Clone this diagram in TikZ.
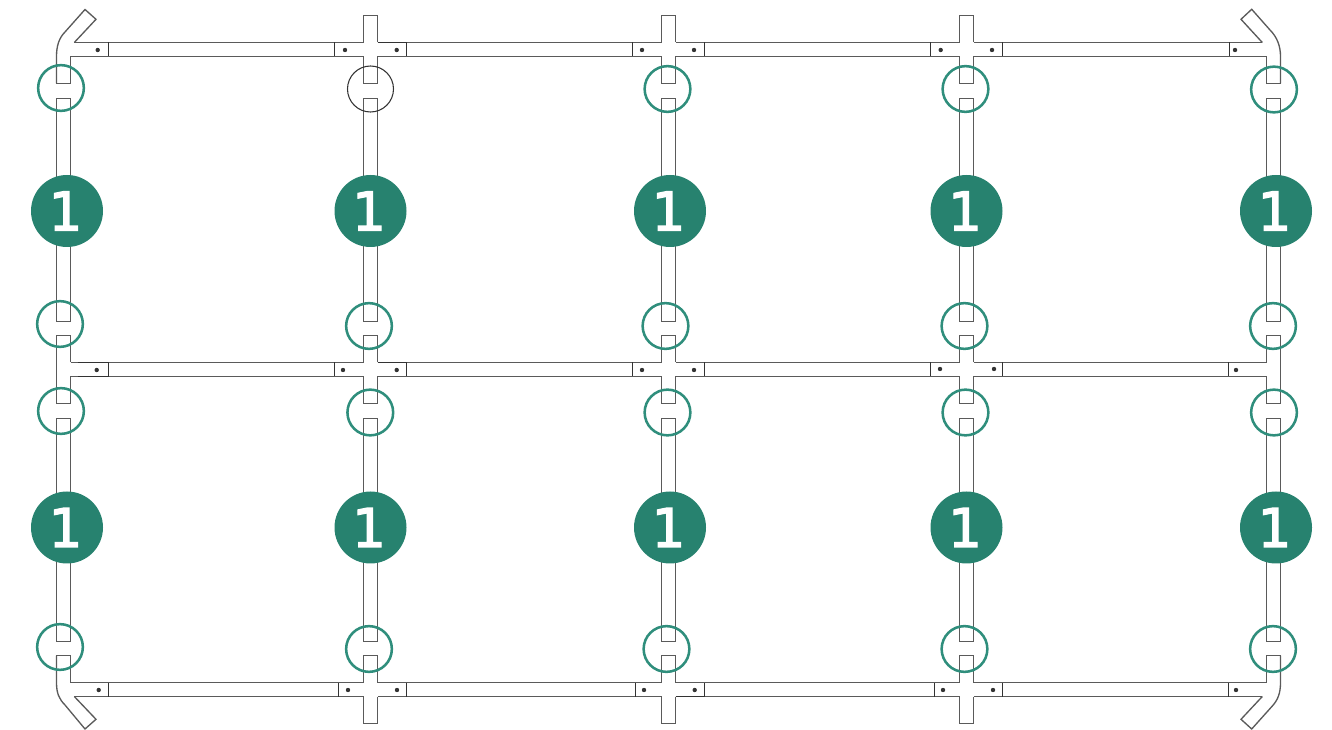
\documentclass[tikz,border=0pt]{standalone}
\usepackage{fontspec}
\setmainfont{DejaVu Sans}
\newfontfamily\badgefont[FakeBold=2.4]{DejaVu Sans}
\definecolor{beamline}{HTML}{5A5A5A}
\definecolor{jointline}{HTML}{333333}
\definecolor{ringgreen}{HTML}{2F8E7C}
\definecolor{badgegreen}{HTML}{27826F}
\tikzset{
  beam/.style={draw=beamline,line width=1pt,line join=miter},
  joint/.style={draw=jointline,line width=1.1pt},
  collar/.style={draw=jointline,line width=1.1pt},
  pin/.style={circle,fill=jointline,inner sep=0pt,minimum size=3.3pt},
  ring/.style={circle,draw=ringgreen,line width=1.9pt,inner sep=0pt,minimum size=34.3pt},
  darkring/.style={circle,draw=jointline,line width=0.8pt,inner sep=0pt,minimum size=34.5pt},
  badge/.style={circle,fill=badgegreen,inner sep=0pt,minimum size=54pt},
  digit/.style={text=white,inner sep=0pt,font=\badgefont\fontsize{40}{40}\selectfont},
}
\begin{document}
\begin{tikzpicture}[x=0.75pt,y=-0.75pt]
\useasboundingbox (0,0) rectangle (1332,730);
% vertical post pieces common to all columns
\foreach \xl in {56.5,363.5,661.5,959.5,1266.5}{
  \pgfmathsetmacro{\xr}{\xl+14}
  \draw[beam] (\xl,56.5) -- (\xl,83.5) -- (\xr,83.5) -- (\xr,56.5);
  \draw[beam] (\xl,321.5) -- (\xl,98.5) -- (\xr,98.5) -- (\xr,321.5) -- cycle;
  \draw[beam] (\xl,362.5) -- (\xl,335.5) -- (\xr,335.5) -- (\xr,362.5);
  \draw[beam] (\xl,376.5) -- (\xl,403.5) -- (\xr,403.5) -- (\xr,376.5);
  \draw[beam] (\xl,641.5) -- (\xl,418.5) -- (\xr,418.5) -- (\xr,641.5) -- cycle;
  \draw[beam] (\xl,682.5) -- (\xl,655.5) -- (\xr,655.5) -- (\xr,682.5);
}
% cross arms of inner columns
\foreach \xl in {363.5,661.5,959.5}{
  \pgfmathsetmacro{\xr}{\xl+14}
  \draw[beam] (\xl,42.5) -- (\xl,15.5) -- (\xr,15.5) -- (\xr,42.5);
  \draw[beam] (\xl,696.5) -- (\xl,723.5) -- (\xr,723.5) -- (\xr,696.5);
}
% outer edges at the middle rail
\draw[beam] (56.5,335.5) -- (56.5,403.5);
\draw[beam] (1280.5,335.5) -- (1280.5,403.5);
% horizontal rails
\foreach \ya in {42.5,56.5,362.5,376.5,682.5,696.5}{
  \draw[beam] (377.5,\ya) -- (661.5,\ya);
  \draw[beam] (675.5,\ya) -- (959.5,\ya);
}
\foreach \ya in {56.5,362.5,376.5,682.5}{
  \draw[beam] (70.5,\ya) -- (363.5,\ya);
  \draw[beam] (973.5,\ya) -- (1266.5,\ya);
}
\draw[beam] (74.3,42.5) -- (363.5,42.5);
\draw[beam] (973.5,42.5) -- (1262.3,42.5);
\draw[beam] (74.3,696.5) -- (363.5,696.5);
\draw[beam] (973.5,696.5) -- (1262.3,696.5);
% bent corners
\draw[beam] (56.5,83.5) -- (56.5,56.5) .. controls (56.5,46) and (59,38) .. (65,32) -- (85,9.5) -- (96,19.3) -- (74.3,42.5);
\draw[beam] (1280.5,83.5) -- (1280.5,56.5) .. controls (1280.5,46) and (1277,37) .. (1270,30) -- (1251.7,9.3) -- (1241,19.3) -- (1262.3,42.5);
\draw[beam] (56.5,655.5) -- (56.5,682.5) .. controls (56.5,693) and (59,699) .. (65,705) -- (85,729) -- (96,719.3) -- (74.3,696.5);
\draw[beam] (1280.5,655.5) -- (1280.5,682.5) .. controls (1280.5,693) and (1278,700) .. (1271.7,706.7) -- (1251.7,729) -- (1241,719.3) -- (1262.3,696.5);
% joints: x / y-centre
\foreach \x/\y in {108.5/49.5,334.5/49.5,406.5/49.5,632.5/49.5,704.5/49.5,930.5/49.5,1002.5/49.5,1229.5/49.5,
  108.5/369.5,334.5/369.5,406.5/369.5,632.5/369.5,704.5/369.5,930.5/369.5,1002.5/369.5,1228.5/369.5,
  108.5/689.5,338.5/689.5,406.5/689.5,635.5/689.5,704.5/689.5,934.5/689.5,1002.5/689.5,1228.5/689.5}{
  \draw[joint] (\x,\y-7) -- (\x,\y+7);
}
% darker rail stretches beside the joints
\draw[collar] (377.5,42.5) -- (406.5,42.5);
\draw[collar] (78,362.5) -- (108.5,362.5);
\draw[collar] (78,376.5) -- (108.5,376.5);
\draw[collar] (377.5,362.5) -- (406.5,362.5);
\draw[collar] (675.5,696.5) -- (704.5,696.5);
% fixing pins
\foreach \x/\y/\n in {97.7/50/a,345/50/b,396.7/50/c,642/50/d,694/50/e,940.7/50/x,992/50/f,1235/50/g,
  96.7/370/h,343/370/i,396.7/370/j,642/370/k,694/370/l,940/369/m,994/369/n,1236/370/o,
  98.7/690/p,348/690/q,397/690/r,644/690/s,694.7/690/t,943/690/u,993/690/v,1236/690/w}{
  \node[pin] (pin\n) at (\x,\y) {};
}
% rings
\node[ring] (r11) at (61,88) {};
\node[darkring] (r12) at (370.5,89) {};
\node[ring] (r13) at (667.5,89) {};
\node[ring] (r14) at (965.5,89) {};
\node[ring] (r15) at (1274,89.5) {};
\node[ring] (r21) at (60,324) {};
\node[ring] (r22) at (369,326) {};
\node[ring] (r23) at (665.5,326) {};
\node[ring] (r24) at (964.5,326) {};
\node[ring] (r25) at (1273,326) {};
\node[ring] (r31) at (61,411) {};
\node[ring] (r32) at (370.3,412.5) {};
\node[ring] (r33) at (667.5,412.5) {};
\node[ring] (r34) at (965.5,412.5) {};
\node[ring] (r35) at (1274,412.5) {};
\node[ring] (r41) at (60,647) {};
\node[ring] (r42) at (369,649) {};
\node[ring] (r43) at (666.5,649) {};
\node[ring] (r44) at (964.5,649) {};
\node[ring] (r45) at (1273,649) {};
% number badges
\foreach \x/\y/\n in {67/211/11,370.5/211/12,670/211/13,966.5/211/14,1276/211/15,
  67/527.5/21,370.5/527.5/22,670/527.5/23,966.5/527.5/24,1276/527.5/25}{
  \node[badge] (b\n) at (\x,\y) {};
  \node[digit] (d\n) at (\x-1.5,\y) {1};
}
\end{tikzpicture}
\end{document}
